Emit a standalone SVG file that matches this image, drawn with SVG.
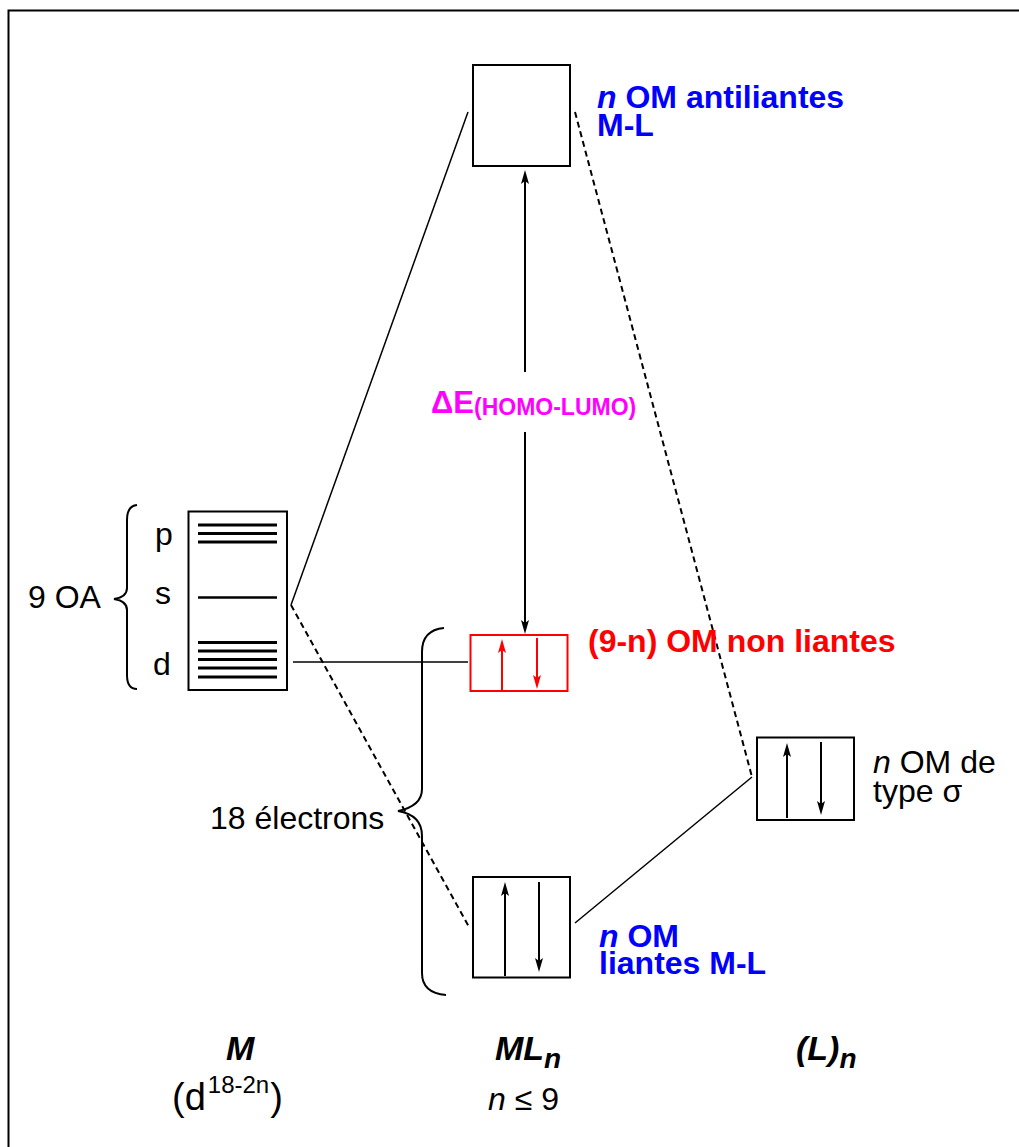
<svg xmlns="http://www.w3.org/2000/svg" width="1019" height="1147" viewBox="0 0 1019 1147">
<style>
text{font-family:"Liberation Sans",Arial,sans-serif;}
.t{font-size:32px;fill:#000;}
.b{font-size:32px;font-weight:bold;fill:#0000ff;}
.r{font-size:32px;font-weight:bold;fill:#ff0000;}
.i{font-style:italic;}
.bl{font-weight:bold;font-style:italic;fill:#000;}
.box{fill:#fff;stroke:#000;stroke-width:2;}
.rbox{fill:#fff;stroke:#ff0000;stroke-width:2;}
.ln{fill:none;stroke:#000;stroke-width:1.5;}
.dash{fill:none;stroke:#000;stroke-width:2;stroke-dasharray:6 4;}
.lvl{stroke:#000;stroke-width:3;}
.ar{stroke:#000;stroke-width:2;}
.arr{stroke:#ff0000;stroke-width:2;}
.br{fill:none;stroke:#000;stroke-width:2;}
</style>
<defs>
<marker id="ah" viewBox="0 0 14 8" refX="3" refY="4" markerWidth="14" markerHeight="8" markerUnits="userSpaceOnUse" orient="auto">
<path d="M0,0 L14,4 L0,8 L3,4 z" fill="#000"/>
</marker>
<marker id="ahr" viewBox="0 0 14 8" refX="3" refY="4" markerWidth="14" markerHeight="8" markerUnits="userSpaceOnUse" orient="auto">
<path d="M0,0 L14,4 L0,8 L3,4 z" fill="#ff0000"/>
</marker>
</defs>
<rect x="0" y="0" width="1019" height="1147" fill="#fff"/>
<path d="M8.5,1147 V10.5 H1019" fill="none" stroke="#000" stroke-width="2"/>

<g id="connectors">
<line class="ln" x1="291" y1="605" x2="468" y2="112"/>
<line class="dash" x1="291" y1="605" x2="469" y2="927"/>
<line class="ln" x1="293" y1="662" x2="468" y2="662"/>
<line class="dash" x1="575" y1="112" x2="752" y2="777"/>
<line class="ln" x1="752" y1="777" x2="575" y2="923"/>
<line class="ar" x1="525" y1="372" x2="525" y2="181" marker-end="url(#ah)"/>
<line class="ar" x1="525" y1="432" x2="525" y2="623" marker-end="url(#ah)"/>
</g>

<g id="node-M">
<rect class="box" x="188.5" y="511.5" width="98.5" height="178.5"/>
<line class="lvl" x1="198" y1="525" x2="277" y2="525"/>
<line class="lvl" x1="198" y1="533.5" x2="277" y2="533.5"/>
<line class="lvl" x1="198" y1="542" x2="277" y2="542"/>
<line class="lvl" x1="198" y1="597.5" x2="277" y2="597.5" style="stroke-width:2.5"/>
<line class="lvl" x1="198" y1="642.5" x2="277" y2="642.5"/>
<line class="lvl" x1="198" y1="651" x2="277" y2="651"/>
<line class="lvl" x1="198" y1="659.5" x2="277" y2="659.5"/>
<line class="lvl" x1="198" y1="668" x2="277" y2="668"/>
<line class="lvl" x1="198" y1="677" x2="277" y2="677"/>
<text class="t" x="155" y="545">p</text>
<text class="t" x="155" y="604">s</text>
<text class="t" x="153" y="675">d</text>
<path class="br" d="M137,505 Q127,506 127,520 V588 Q127,597 114,599 Q127,601 127,610 V675 Q127,689 137,689"/>
<text class="t" x="28" y="608">9 OA</text>
</g>

<g id="node-antibonding">
<rect class="box" x="473" y="65" width="97" height="101"/>
<text class="b" x="597" y="108"><tspan class="i">n</tspan> OM antiliantes<tspan x="597" y="136">M-L</tspan></text>
</g>

<g id="node-gap">
<text x="431" y="413" font-size="31" font-weight="bold" fill="#ff00ff">ΔE<tspan font-size="23" dy="2">(HOMO-LUMO)</tspan></text>
</g>

<g id="node-nonbonding">
<rect class="rbox" x="470.5" y="635" width="97" height="56"/>
<line class="arr" x1="502" y1="690" x2="502" y2="650" marker-end="url(#ahr)"/>
<line class="arr" x1="537" y1="638" x2="537" y2="678" marker-end="url(#ahr)"/>
<text class="r" x="588" y="652">(9-n) OM non liantes</text>
</g>

<g id="node-electrons">
<path class="br" d="M444,628 Q422,630 422,652 V789 Q422,806 398,811 Q422,815 422,836 V973 Q422,993 446,995"/>
<text class="t" x="210" y="829">18 électrons</text>
</g>

<g id="node-bonding">
<rect class="box" x="473" y="877" width="97" height="100.5"/>
<line class="ar" x1="505" y1="976" x2="505" y2="893" marker-end="url(#ah)"/>
<line class="ar" x1="539" y1="882" x2="539" y2="961" marker-end="url(#ah)"/>
<text class="b" x="599" y="947"><tspan class="i">n</tspan> OM<tspan x="599" y="974">liantes M-L</tspan></text>
</g>

<g id="node-L">
<rect class="box" x="757" y="737.5" width="97" height="82.5"/>
<line class="ar" x1="787" y1="818" x2="787" y2="754" marker-end="url(#ah)"/>
<line class="ar" x1="821" y1="742" x2="821" y2="804" marker-end="url(#ah)"/>
<text class="t" x="873" y="773"><tspan class="i">n</tspan> OM de<tspan x="873" y="802">type σ</tspan></text>
</g>

<g id="labels-bottom">
<text class="bl" x="226" y="1060" font-size="34">M</text>
<text x="172" y="1110" font-size="38">(d<tspan font-size="24" dx="2" dy="-17">18-2n</tspan><tspan dx="1" dy="17">)</tspan></text>
<text class="bl" x="495" y="1060" font-size="34">ML<tspan font-size="28" dy="8">n</tspan></text>
<text class="bl" x="796" y="1060" font-size="34">(L)<tspan font-size="28" dy="8">n</tspan></text>
<text x="488" y="1110" font-size="32"><tspan font-style="italic">n</tspan> ≤ 9</text>
</g>
</svg>
